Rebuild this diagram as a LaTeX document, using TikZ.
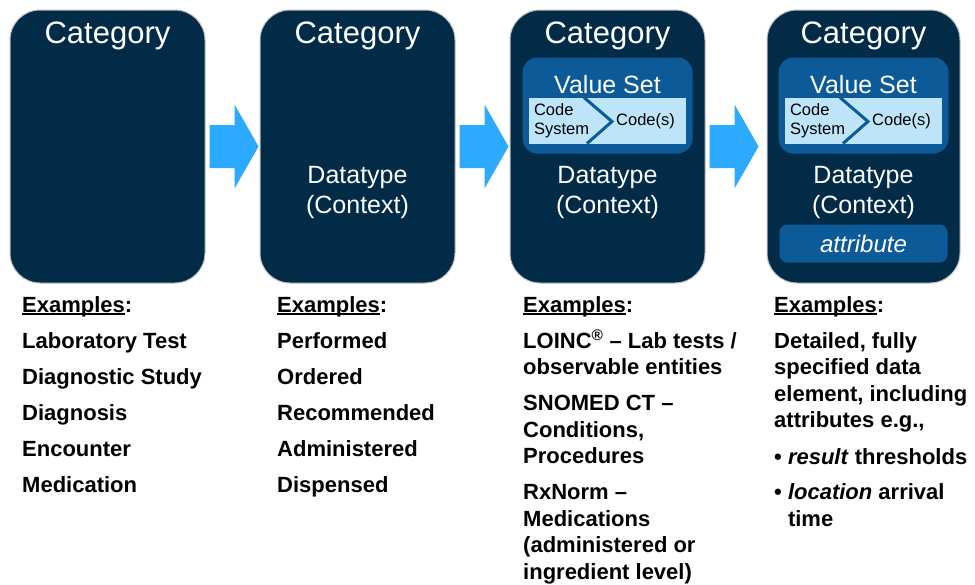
\documentclass[tikz,border=0pt]{standalone}
\usepackage{fontspec}
\setmainfont{Liberation Sans}
\usetikzlibrary{positioning,calc}

\definecolor{navy}{RGB}{2,43,72}
\definecolor{vsblue}{RGB}{12,90,152}
\definecolor{csblue}{RGB}{190,228,250}
\definecolor{arrowblue}{RGB}{43,170,255}

% underline that sits close to the baseline
\newcommand{\exul}[1]{\setbox0\hbox{#1}\rlap{\rule[-2.5pt]{\wd0}{1.3pt}}#1}

\begin{document}
\begin{tikzpicture}[x=1pt,y=-1pt,
  panel/.style={draw=black!25,line width=1pt,fill=navy,rounded corners=30pt,
    minimum width=195pt,minimum height=273pt,inner sep=0pt},
  cattext/.style={text=white,font=\fontsize{31}{36}\selectfont,inner sep=0pt},
  dtext/.style={text=white,font=\fontsize{25}{30}\selectfont,align=center,inner sep=0pt},
  vsbox/.style={fill=vsblue,rounded corners=15pt,minimum width=170pt,minimum height=96pt,inner sep=0pt},
  csbox/.style={fill=csblue,minimum width=157pt,minimum height=46pt,inner sep=0pt},
  smalltext/.style={font=\fontsize{16.5}{19}\selectfont,align=left,inner sep=0pt},
  attbox/.style={fill=vsblue,rounded corners=8pt,minimum width=168pt,minimum height=38pt,
    inner sep=0pt,text=white,font=\fontsize{24}{28}\selectfont\itshape},
  examples/.style={font=\fontsize{22}{26.5}\selectfont\bfseries,align=left,
    anchor=north west,inner sep=0pt}
]
\useasboundingbox (0,0) rectangle (975,584);

% the four panels
\node[panel] (cat1) at (107.5,146.5) {};
\node[panel] (cat2) at (357.5,146.5) {};
\node[panel] (cat3) at (607.5,146.5) {};
\node[panel,minimum width=193pt] (cat4) at (863.5,146.5) {};

\foreach \i in {1,...,4}
  \node[cattext] (title\i) at ([yshift=-26pt]cat\i.north) {Category};

% block arrows between panels
\foreach \a/\b in {cat1/cat2,cat2/cat3,cat3/cat4}
  \fill[arrowblue] ($(\a.east)+(4,-21.5)$) -- ($(\a.east)+(29,-21.5)$)
    -- ($(\a.east)+(29,-42)$) -- ($(\a.east)+(53,0)$) -- ($(\a.east)+(29,42)$)
    -- ($(\a.east)+(29,21.5)$) -- ($(\a.east)+(4,21.5)$) -- cycle;

% datatype
\foreach \i in {2,3,4}
  \node[dtext] (dt\i) at ([yshift=-183pt]cat\i.north) {Datatype\\(Context)};

% value sets
\foreach \i in {3,4} {
  \node[vsbox] (vs\i) at ([yshift=-96pt]cat\i.north) {};
  \node[text=white,font=\fontsize{25}{30}\selectfont,inner sep=0pt] (vst\i) at ([yshift=-75pt]cat\i.north) {Value Set};
  \node[csbox] (cs\i) at ([yshift=-111pt]cat\i.north) {};
  \draw[vsblue,line width=3pt] ($(cs\i.center)+(-23.5,-23)$) -- ($(cs\i.center)+(4.5,1)$)
    -- ($(cs\i.center)+(-20.5,23)$);
  \node[smalltext,anchor=west] (sys\i) at ([xshift=5pt]cs\i.west) {Code\\System};
  \node[smalltext,anchor=west] (code\i) at ($(cs\i.center)+(8.5,1)$) {Code(s)};
}

% attribute
\node[attbox] (att4) at ([yshift=-234pt]cat4.north) {attribute};

% examples
\node[examples] (ex1) at (22,296) {\exul{Examples}:\\[9.5pt]
  Laboratory Test\\[9.5pt] Diagnostic Study\\[9.5pt] Diagnosis\\[9.5pt]
  Encounter\\[9.5pt] Medication};
\node[examples] (ex2) at (277,296) {\exul{Examples}:\\[9.5pt]
  Performed\\[9.5pt] Ordered\\[9.5pt] Recommended\\[9.5pt]
  Administered\\[9.5pt] Dispensed};
\node[examples] (ex3) at (523,296) {\exul{Examples}:\\[9.5pt]
  LOINC\textsuperscript{®} – Lab tests /\\ observable entities\\[9.5pt]
  SNOMED CT –\\ Conditions,\\ Procedures\\[9.5pt]
  RxNorm –\\ Medications\\ (administered or\\ ingredient level)};
\node[examples] (ex4) at (774,296) {\exul{Examples}:\\[9.5pt]
  Detailed, fully\\ specified data\\ element, including\\ attributes e.g.,\\[10.5pt]
  • \textit{result} thresholds\\[8.5pt]
  • \textit{location} arrival\\ \hphantom{• }time};
\end{tikzpicture}
\end{document}
